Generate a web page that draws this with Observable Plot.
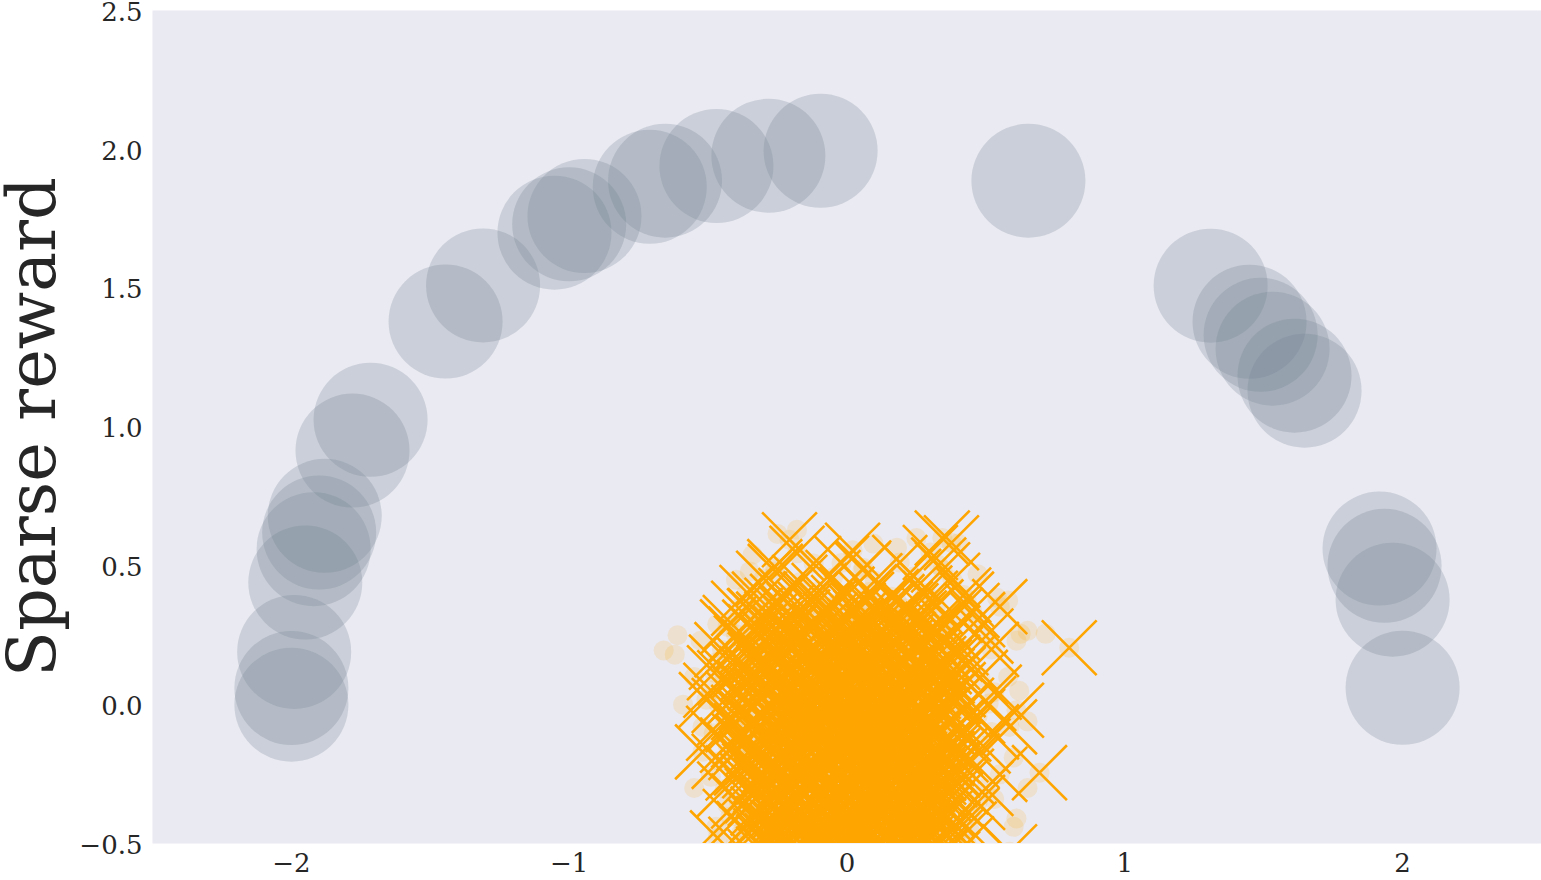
<!DOCTYPE html>
<html><head><meta charset="utf-8">
<script src="https://cdn.jsdelivr.net/npm/d3@7"></script>
<script src="https://cdn.jsdelivr.net/npm/@observablehq/plot@0.6"></script>
<style>body{margin:0;background:#fff}</style>
</head><body><div id="chart"></div>
<script>
// Grey goal circles
const goalX = [-2.0, -2.0, -1.99, -1.95, -1.92, -1.90, -1.88, -1.78, -1.715, -1.445, -1.31, -1.053, -1.0, -0.945, -0.71, -0.655, -0.47, -0.283, -0.095,
               0.653, 1.309, 1.449, 1.489, 1.532, 1.611, 1.647, 1.917, 1.935, 1.964, 2.0];
const goalY = [0.0, 0.06, 0.19, 0.44, 0.56, 0.62, 0.68, 0.915, 1.026, 1.38, 1.51, 1.70, 1.73, 1.76, 1.865, 1.887, 1.94, 1.977, 1.995,
               1.887, 1.509, 1.379, 1.332, 1.282, 1.185, 1.131, 0.562, 0.50, 0.378, 0.061];

// Orange "x" samples [x, y]
const sampleXY = [
  [0.80,0.205],[0.693,-0.245],[0.343,0.60],[0.376,0.583],[0.55,0.353],[0.43,0.38],[0.344,0.486],[-0.207,0.594],[-0.02,0.51],[-0.258,0.48],
  [-0.43,0.28],[-0.315,0.38],[0.056,0.486],[-0.477,0.115],[-0.333,0.32],[-0.52,-0.17],[-0.506,0.018],[-0.466,-0.48],[0.61,-0.02],[0.585,-0.08],[0.585,-0.53],
  [-0.18,0.545],[0.02,0.556],[0.30,0.548],
  [-0.26,0.497],[-0.12,0.508],[0.06,0.492],[0.19,0.512],[0.33,0.503],
  [-0.30,0.455],[-0.17,0.441],[-0.05,0.458],[0.10,0.446],[0.24,0.462],[0.38,0.448],
  [-0.36,0.404],[-0.22,0.393],[-0.10,0.411],[0.00,0.398],[0.08,0.406],[0.16,0.389],[0.28,0.402],[0.42,0.395],
  [-0.39,0.347],[-0.27,0.358],[-0.15,0.343],[-0.06,0.354],[0.04,0.341],[0.12,0.357],[0.21,0.346],[0.32,0.352],[0.45,0.339],
  [-0.42,0.296],[-0.30,0.308],[-0.20,0.293],[-0.11,0.305],[-0.02,0.297],[0.07,0.309],[0.15,0.291],[0.25,0.303],[0.35,0.294],[0.47,0.306],
  [-0.40,0.254],[-0.31,0.243],[-0.24,0.258],[-0.16,0.246],[-0.08,0.255],[0.00,0.241],[0.05,0.257],[0.11,0.248],[0.19,0.253],[0.27,0.244],[0.38,0.259],[0.50,0.247],
  [-0.45,0.198],[-0.35,0.207],[-0.26,0.193],[-0.19,0.204],[-0.12,0.196],[-0.05,0.209],[0.02,0.192],[0.09,0.203],[0.14,0.197],[0.21,0.208],[0.30,0.194],[0.41,0.205],[0.52,0.199],
  [-0.47,0.153],[-0.37,0.144],[-0.29,0.156],[-0.21,0.147],[-0.14,0.158],[-0.07,0.142],[-0.01,0.154],[0.05,0.146],[0.12,0.157],[0.18,0.143],[0.25,0.152],[0.33,0.148],[0.44,0.155],
  [-0.44,0.097],[-0.34,0.106],[-0.25,0.092],[-0.17,0.104],[-0.10,0.095],[-0.04,0.108],[0.02,0.093],[0.08,0.102],[0.13,0.096],[0.20,0.107],[0.27,0.091],[0.36,0.103],[0.48,0.098],
  [-0.49,0.052],[-0.39,0.043],[-0.30,0.056],[-0.22,0.047],[-0.15,0.058],[-0.08,0.044],[-0.02,0.053],[0.04,0.041],[0.10,0.055],[0.16,0.046],[0.23,0.057],[0.31,0.048],[0.40,0.054],[0.53,0.045],
  [-0.46,-0.003],[-0.36,0.006],[-0.27,-0.008],[-0.19,0.004],[-0.12,-0.005],[-0.05,0.008],[0.01,-0.007],[0.07,0.003],[0.13,-0.004],[0.19,0.007],[0.26,-0.006],[0.34,0.005],[0.43,-0.002],[0.51,0.004],
  [-0.44,-0.047],[-0.33,-0.056],[-0.24,-0.043],[-0.17,-0.054],[-0.10,-0.046],[-0.03,-0.057],[0.03,-0.044],[0.09,-0.053],[0.15,-0.045],[0.22,-0.058],[0.29,-0.048],[0.38,-0.055],[0.47,-0.042],
  [-0.48,-0.103],[-0.38,-0.094],[-0.29,-0.107],[-0.21,-0.096],[-0.14,-0.105],[-0.07,-0.092],[0.00,-0.104],[0.06,-0.097],[0.12,-0.108],[0.18,-0.093],[0.25,-0.102],[0.33,-0.095],[0.42,-0.106],[0.52,-0.098],
  [-0.43,-0.146],[-0.34,-0.157],[-0.25,-0.143],[-0.18,-0.155],[-0.11,-0.148],[-0.04,-0.158],[0.03,-0.144],[0.09,-0.153],[0.16,-0.147],[0.23,-0.156],[0.30,-0.142],[0.39,-0.154],[0.49,-0.149],
  [-0.46,-0.204],[-0.36,-0.193],[-0.27,-0.206],[-0.20,-0.195],[-0.13,-0.207],[-0.06,-0.196],[0.01,-0.203],[0.07,-0.192],[0.14,-0.205],[0.20,-0.197],[0.27,-0.208],[0.36,-0.194],[0.45,-0.202],
  [-0.41,-0.246],[-0.31,-0.255],[-0.23,-0.244],[-0.15,-0.257],[-0.08,-0.248],[-0.01,-0.253],[0.05,-0.242],[0.11,-0.256],[0.18,-0.245],[0.25,-0.254],[0.33,-0.247],[0.43,-0.258],[0.55,-0.251],
  [-0.44,-0.304],[-0.34,-0.293],[-0.25,-0.306],[-0.17,-0.297],[-0.10,-0.308],[-0.03,-0.295],[0.04,-0.303],[0.10,-0.292],[0.17,-0.305],[0.24,-0.298],[0.32,-0.307],[0.41,-0.296],[0.50,-0.302],
  [-0.39,-0.347],[-0.29,-0.356],[-0.21,-0.344],[-0.13,-0.353],[-0.06,-0.345],[0.01,-0.357],[0.08,-0.343],[0.15,-0.354],[0.22,-0.348],[0.30,-0.355],[0.39,-0.342],[0.47,-0.352],
  [-0.42,-0.403],[-0.32,-0.394],[-0.23,-0.406],[-0.15,-0.397],[-0.08,-0.405],[-0.01,-0.393],[0.06,-0.404],[0.13,-0.396],[0.20,-0.407],[0.28,-0.395],[0.36,-0.402],[0.45,-0.398],
  [-0.37,-0.446],[-0.27,-0.455],[-0.18,-0.443],[-0.10,-0.454],[-0.03,-0.447],[0.04,-0.456],[0.11,-0.444],[0.19,-0.452],[0.27,-0.445],[0.35,-0.457],[0.44,-0.448],
  [-0.40,-0.503],[-0.30,-0.494],[-0.20,-0.506],[-0.12,-0.497],[-0.04,-0.505],[0.03,-0.492],[0.10,-0.504],[0.18,-0.496],[0.26,-0.507],[0.34,-0.493],[0.43,-0.501],
  [-0.33,-0.548],[-0.22,-0.553],[-0.12,-0.545],[-0.02,-0.556],[0.08,-0.547],[0.17,-0.552],[0.27,-0.544],[0.38,-0.555],
  [-0.25,0.372],[-0.13,0.381],[-0.03,0.368],[0.07,0.379],[0.18,0.371],[0.30,0.383],
  [-0.33,0.321],[-0.22,0.33],[-0.09,0.318],[0.01,0.327],[0.10,0.333],[0.19,0.319],[0.29,0.328],[0.39,0.322],
  [-0.35,0.279],[-0.26,0.27],[-0.13,0.282],[-0.05,0.273],[0.03,0.281],[0.13,0.268],[0.22,0.277],[0.31,0.271],
  [-0.38,0.222],[-0.29,0.231],[-0.21,0.219],[-0.09,0.228],[-0.01,0.221],[0.06,0.232],[0.17,0.218],[0.26,0.229],[0.35,0.223],
  [-0.32,0.178],[-0.24,0.169],[-0.10,0.181],[0.00,0.172],[0.08,0.179],[0.15,0.168],[0.22,0.177],[0.29,0.171],[0.39,0.182],
  [-0.39,0.121],[-0.28,0.13],[-0.20,0.118],[-0.13,0.127],[-0.06,0.119],[0.04,0.131],[0.11,0.122],[0.17,0.128],[0.24,0.117],[0.32,0.126],
  [-0.33,0.078],[-0.26,0.069],[-0.18,0.081],[-0.11,0.072],[-0.05,0.079],[0.01,0.068],[0.07,0.077],[0.13,0.071],[0.20,0.082],[0.28,0.073],[0.36,0.076],
  [-0.41,0.022],[-0.31,0.031],[-0.24,0.019],[-0.16,0.028],[-0.09,0.021],[-0.03,0.032],[0.04,0.018],[0.10,0.027],[0.16,0.023],[0.22,0.03],[0.29,0.02],[0.38,0.029],
  [-0.39,-0.028],[-0.29,-0.019],[-0.21,-0.031],[-0.14,-0.022],[-0.07,-0.029],[0.00,-0.018],[0.05,-0.027],[0.11,-0.021],[0.18,-0.032],[0.25,-0.023],[0.33,-0.03],[0.42,-0.02],
  [-0.41,-0.072],[-0.32,-0.081],[-0.25,-0.069],[-0.17,-0.078],[-0.11,-0.071],[-0.04,-0.082],[0.02,-0.073],[0.08,-0.079],[0.15,-0.068],[0.21,-0.077],[0.28,-0.07],[0.36,-0.08],
  [-0.39,-0.128],[-0.30,-0.119],[-0.22,-0.131],[-0.15,-0.122],[-0.08,-0.129],[-0.02,-0.118],[0.05,-0.127],[0.12,-0.121],[0.19,-0.132],[0.27,-0.123],[0.35,-0.13],
  [-0.40,-0.172],[-0.31,-0.181],[-0.23,-0.169],[-0.16,-0.178],[-0.09,-0.171],[-0.02,-0.182],[0.04,-0.173],[0.11,-0.179],[0.17,-0.168],[0.24,-0.177],[0.32,-0.17],[0.41,-0.18],
  [-0.38,-0.228],[-0.28,-0.219],[-0.21,-0.231],[-0.14,-0.222],[-0.07,-0.229],[0.00,-0.218],[0.07,-0.227],[0.14,-0.221],[0.21,-0.232],[0.29,-0.223],[0.38,-0.23],
  [-0.36,-0.272],[-0.27,-0.281],[-0.20,-0.269],[-0.13,-0.278],[-0.06,-0.271],[0.01,-0.282],[0.08,-0.273],[0.14,-0.279],[0.21,-0.268],[0.28,-0.277],[0.37,-0.27],
  [-0.34,-0.328],[-0.26,-0.319],[-0.18,-0.331],[-0.11,-0.322],[-0.04,-0.329],[0.03,-0.318],[0.10,-0.327],[0.18,-0.321],[0.26,-0.332],[0.35,-0.323],
  [-0.32,-0.372],[-0.24,-0.381],[-0.16,-0.369],[-0.09,-0.378],[-0.02,-0.371],[0.05,-0.382],[0.12,-0.373],[0.19,-0.379],[0.27,-0.368],[0.36,-0.377],
  [-0.30,-0.428],[-0.21,-0.419],[-0.13,-0.431],[-0.06,-0.422],[0.01,-0.429],[0.08,-0.418],[0.16,-0.427],[0.23,-0.421],[0.32,-0.43],
  [-0.31,-0.472],[-0.22,-0.481],[-0.14,-0.469],[-0.07,-0.478],[0.00,-0.471],[0.07,-0.482],[0.15,-0.473],[0.22,-0.479],[0.30,-0.468],[0.39,-0.477],
  [-0.26,-0.528],[-0.17,-0.519],[-0.08,-0.531],[0.00,-0.522],[0.09,-0.529],[0.17,-0.518],[0.25,-0.527],
  [-0.27,0.309],[-0.16,0.316],[-0.06,0.305],[0.05,0.314],[0.16,0.307],[0.26,0.312],
  [-0.33,0.262],[-0.21,0.255],[-0.10,0.266],[-0.01,0.258],[0.09,0.263],[0.20,0.254],[0.33,0.261],
  [-0.36,0.211],[-0.23,0.204],[-0.15,0.215],[-0.03,0.207],[0.04,0.213],[0.12,0.203],[0.24,0.212],[0.33,0.206],
  [-0.33,0.162],[-0.26,0.155],[-0.17,0.166],[-0.09,0.158],[-0.03,0.163],[0.07,0.154],[0.15,0.165],[0.21,0.157],[0.31,0.161],[0.38,0.153],
  [-0.36,0.111],[-0.29,0.104],[-0.21,0.115],[-0.15,0.107],[-0.07,0.113],[-0.01,0.103],[0.05,0.112],[0.15,0.106],[0.23,0.114],[0.30,0.105],[0.40,0.11],
  [-0.37,0.062],[-0.27,0.055],[-0.20,0.066],[-0.13,0.058],[-0.06,0.063],[0.00,0.054],[0.06,0.065],[0.12,0.057],[0.19,0.061],[0.26,0.053],[0.34,0.064],
  [-0.35,0.011],[-0.28,0.004],[-0.21,0.015],[-0.13,0.007],[-0.07,0.013],[-0.01,0.003],[0.05,0.012],[0.11,0.006],[0.17,0.014],[0.24,0.005],[0.31,0.013],[0.39,0.008],
  [-0.37,-0.038],[-0.27,-0.045],[-0.20,-0.034],[-0.13,-0.042],[-0.06,-0.037],[0.01,-0.046],[0.06,-0.035],[0.12,-0.043],[0.19,-0.039],[0.26,-0.047],[0.34,-0.036],
  [-0.35,-0.089],[-0.25,-0.096],[-0.18,-0.085],[-0.11,-0.093],[-0.05,-0.087],[0.03,-0.097],[0.10,-0.086],[0.16,-0.094],[0.23,-0.088],[0.30,-0.095],[0.39,-0.084],
  [-0.37,-0.138],[-0.28,-0.145],[-0.20,-0.134],[-0.13,-0.142],[-0.06,-0.137],[0.00,-0.146],[0.07,-0.135],[0.13,-0.143],[0.20,-0.139],[0.27,-0.147],[0.34,-0.136],
  [-0.34,-0.189],[-0.25,-0.196],[-0.18,-0.185],[-0.11,-0.193],[-0.04,-0.187],[0.02,-0.197],[0.09,-0.186],[0.15,-0.194],[0.22,-0.188],[0.30,-0.195],[0.38,-0.184],
  [-0.35,-0.238],[-0.27,-0.245],[-0.19,-0.234],[-0.11,-0.242],[-0.04,-0.237],[0.03,-0.246],[0.09,-0.235],[0.16,-0.243],[0.22,-0.239],[0.30,-0.247],[0.38,-0.236],
  [-0.31,-0.289],[-0.22,-0.296],[-0.15,-0.285],[-0.08,-0.293],[-0.01,-0.287],[0.06,-0.297],[0.12,-0.286],[0.19,-0.294],[0.26,-0.288],[0.34,-0.295],
  [-0.33,-0.338],[-0.25,-0.345],[-0.17,-0.334],[-0.10,-0.342],[-0.03,-0.337],[0.04,-0.346],[0.11,-0.335],[0.18,-0.343],[0.25,-0.339],[0.33,-0.347],
  [-0.28,-0.389],[-0.19,-0.396],[-0.12,-0.385],[-0.05,-0.393],[0.02,-0.387],[0.09,-0.397],[0.17,-0.386],[0.24,-0.394],[0.32,-0.388],
  [-0.33,-0.438],[-0.24,-0.445],[-0.16,-0.434],[-0.08,-0.442],[-0.01,-0.437],[0.06,-0.446],[0.13,-0.435],[0.21,-0.443],[0.30,-0.439],[0.38,-0.447],
  [-0.27,-0.489],[-0.17,-0.496],[-0.09,-0.485],[-0.02,-0.493],[0.05,-0.487],[0.12,-0.497],[0.20,-0.486],[0.29,-0.494],
  [-0.30,-0.538],[-0.20,-0.545],[-0.13,-0.534],[-0.06,-0.542],[0.02,-0.537],[0.10,-0.546],[0.19,-0.535],[0.28,-0.543],[0.34,-0.539],
  [-0.19,0.34],[-0.08,0.345],[0.03,0.336],[0.14,0.342],[0.23,0.338],
  [-0.28,0.24],[-0.18,0.236],[-0.07,0.244],[0.02,0.238],[0.10,0.245],[0.22,0.235],[0.30,0.242],
  [-0.31,0.14],[-0.18,0.136],[-0.11,0.144],[-0.02,0.138],[0.09,0.145],[0.17,0.135],[0.27,0.142],[0.35,0.137],
  [-0.33,0.04],[-0.19,0.036],[-0.11,0.044],[-0.04,0.038],[0.03,0.045],[0.09,0.035],[0.14,0.042],[0.20,0.037],[0.27,0.043],[0.35,0.036],
  [-0.30,-0.06],[-0.22,-0.064],[-0.15,-0.056],[-0.08,-0.062],[-0.02,-0.055],[0.04,-0.065],[0.11,-0.058],[0.17,-0.063],[0.24,-0.057],[0.31,-0.061],
  [-0.32,-0.16],[-0.21,-0.164],[-0.14,-0.156],[-0.07,-0.162],[-0.01,-0.155],[0.06,-0.165],[0.14,-0.158],[0.21,-0.163],[0.28,-0.157],[0.36,-0.161],
  [-0.30,-0.26],[-0.22,-0.264],[-0.16,-0.256],[-0.09,-0.262],[-0.02,-0.255],[0.05,-0.265],[0.13,-0.258],[0.19,-0.263],[0.27,-0.257],[0.33,-0.261],
  [-0.27,-0.36],[-0.20,-0.364],[-0.12,-0.356],[-0.04,-0.362],[0.03,-0.355],[0.09,-0.365],[0.16,-0.358],[0.23,-0.363],[0.31,-0.357],
  [-0.25,-0.46],[-0.18,-0.464],[-0.11,-0.456],[-0.04,-0.462],[0.03,-0.455],[0.10,-0.465],[0.17,-0.458],[0.25,-0.463],
  [-0.22,-0.52],[-0.11,-0.516],[-0.03,-0.524],[0.05,-0.518],[0.13,-0.525],[0.21,-0.515]
];

// Faint orange trail dots [x, y]
const trailXY = [
  [-0.66,0.195],[-0.61,0.25],[-0.527,0.23],[-0.467,0.29],[-0.62,0.18],[-0.59,0.0],[-0.49,-0.26],[-0.43,-0.36],[-0.47,-0.44],[-0.38,-0.46],
  [-0.31,-0.45],[-0.18,0.63],[-0.25,0.615],[-0.34,0.54],[-0.35,0.48],[0.095,0.58],[0.18,0.565],[0.40,0.58],[0.54,0.385],[0.58,0.375],
  [0.625,0.255],[0.715,0.255],[0.61,0.23],[0.65,0.266],[0.65,-0.06],[0.60,-0.19],[0.65,-0.30],[0.61,-0.41],[0.53,-0.34],[0.60,-0.44],
  [-0.55,0.10],[-0.52,-0.08],[-0.55,-0.30],[0.58,0.10],[0.62,0.05],[-0.40,0.45],[0.25,0.60],[0.47,0.47]
];

const xTicks = [-2, -1, 0, 1, 2];
const yTicks = [-0.5, 0, 0.5, 1, 1.5, 2, 2.5];
const yLabel = "Sparse reward";

const goals = goalX.map((x, i) => ({x, y: goalY[i]}));
const samples = sampleXY.map(([x, y]) => ({x, y}));
const trail = trailXY.map(([x, y]) => ({x, y}));

const chart = Plot.plot({
  width: 1541,
  height: 880,
  marginLeft: 152,
  marginRight: 0,
  marginTop: 10,
  marginBottom: 37,
  x: {domain: [-2.5, 2.5]},
  y: {domain: [-0.5, 2.5]},
  style: {fontFamily: "DejaVu Serif", fontSize: "26px", color: "#262626", background: "white", overflow: "visible"},
  marks: [
    Plot.frame({fill: "#eaeaf2", stroke: "none"}),
    Plot.dot(goals, {x: "x", y: "y", r: 57, fill: "slategray", fillOpacity: 0.25}),
    Plot.dot(trail.concat(samples), {x: "x", y: "y", r: 10, fill: "orange", fillOpacity: 0.15, clip: true}),
    Plot.dot(samples, {x: "x", y: "y", symbol: "times", r: 25, stroke: "orange", strokeWidth: 2.6, clip: true}),
    Plot.axisX({ticks: xTicks, tickSize: 0, tickPadding: 10, tickFormat: d3.format("d"), label: null}),
    Plot.axisY({ticks: yTicks, tickSize: 0, tickPadding: 10, dy: 2, tickFormat: d3.format(".1f"), label: null}),
    Plot.text([yLabel], {frameAnchor: "left", textAnchor: "middle", dx: -119, rotate: -90, fontSize: 67, fontFamily: "DejaVu Serif", fill: "#262626"})
  ]
});
document.getElementById("chart").appendChild(chart);
</script>
</body></html>
